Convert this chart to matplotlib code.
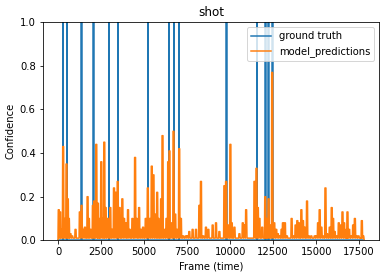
import numpy as np
import matplotlib
matplotlib.use("Agg")
import matplotlib.pyplot as plt

# frames where a shot happens (ground truth)
shot_frames = [290, 525, 1365, 2065, 2955, 3480, 5215, 6440, 6730, 7025,
               9800, 11575, 12055, 12230, 12450]

# model prediction peaks (frame, confidence)
pred_frames = [40, 120, 195, 295, 370, 490, 565, 625, 720, 820, 1015, 1265,
               1365, 1460, 1560, 1715, 1790, 1890, 2025, 2100, 2220, 2315,
               2375, 2510, 2610, 2685, 2765, 2860, 2960, 3035, 3150, 3250,
               3345, 3465, 3580, 3735, 3835, 3930, 4065, 4165, 4320, 4475,
               4570, 4710, 4825, 4940, 5095, 5215, 5330, 5445, 5545, 5640,
               5760, 5835, 5990, 6070, 6185, 6300, 6400, 6475, 6575, 6710,
               6810, 6925, 7040, 7140, 7275, 7430, 7525, 7625, 7820, 8015,
               8210, 8305, 8440, 8595, 8735, 8985, 9180, 9375, 9530, 9665,
               9765, 9880, 10015, 10095, 10250, 10345, 10540, 10735, 10830,
               10930, 11025, 11165, 11320, 11415, 11530, 11610, 11705, 11865,
               12040, 12095, 12235, 12310, 12445, 12565, 12680, 12775, 12875,
               12990, 13070, 13185, 13300, 13420, 13575, 13690, 13805, 13905,
               14000, 14140, 14235, 14330, 14470, 14585, 14720, 14820, 14915,
               15015, 15110, 15205, 15305, 15400, 15540, 15635, 15790, 15905,
               15985, 16080, 16180, 16315, 16430, 16530, 16625, 16765, 16820,
               16920, 17055, 17150, 17250, 17345, 17465, 17580, 17655, 17735]
pred_values = [0.14, 0.13, 0.05, 0.43, 0.10, 0.35, 0.19, 0.10, 0.03, 0.02,
               0.05, 0.13, 0.16, 0.05, 0.06, 0.20, 0.10, 0.05, 0.16, 0.18,
               0.44, 0.17, 0.10, 0.36, 0.10, 0.45, 0.15, 0.10, 0.10, 0.15,
               0.05, 0.24, 0.22, 0.27, 0.15, 0.19, 0.10, 0.08, 0.14, 0.05,
               0.10, 0.38, 0.10, 0.15, 0.05, 0.06, 0.10, 0.24, 0.10, 0.34,
               0.30, 0.12, 0.22, 0.10, 0.19, 0.48, 0.05, 0.10, 0.36, 0.41,
               0.08, 0.50, 0.12, 0.05, 0.42, 0.10, 0.02, 0.02, 0.02, 0.04,
               0.05, 0.05, 0.16, 0.27, 0.02, 0.06, 0.05, 0.07, 0.08, 0.04,
               0.01, 0.25, 0.27, 0.07, 0.44, 0.08, 0.06, 0.01, 0.03, 0.08,
               0.07, 0.14, 0.01, 0.01, 0.01, 0.27, 0.33, 0.15, 0.10, 0.06,
               0.20, 0.10, 0.19, 0.07, 0.77, 0.08, 0.05, 0.03, 0.02, 0.05,
               0.08, 0.08, 0.02, 0.01, 0.10, 0.02, 0.07, 0.09, 0.08, 0.14,
               0.09, 0.06, 0.18, 0.02, 0.02, 0.01, 0.02, 0.02, 0.08, 0.14,
               0.06, 0.02, 0.24, 0.03, 0.06, 0.15, 0.10, 0.04, 0.02, 0.08,
               0.07, 0.13, 0.08, 0.05, 0.13, 0.05, 0.02, 0.07, 0.10, 0.02,
               0.02, 0.01, 0.09, 0.02]
baseline = 0.01
first_frame, last_frame = 0, 17780

# ground truth as a 0/1 signal
gt_x, gt_y = [first_frame], [0]
for s in shot_frames:
    gt_x += [s - 15, s - 15, s + 15, s + 15]
    gt_y += [0, 1, 1, 0]
gt_x.append(last_frame)
gt_y.append(0)

# predictions: each peak sits on the low baseline
pr_x, pr_y = [first_frame], [0.005]
for f, v in zip(pred_frames, pred_values):
    pr_x += [f - 45, f - 28, f + 28, f + 45]
    pr_y += [baseline, v, v, baseline]
pr_x.append(last_frame)
pr_y.append(0.005)

fig = plt.figure(figsize=(386 / 72, 278 / 72), dpi=72)
ax = fig.add_axes([0.1106, 0.1356, 0.872, 0.7842])
ax.plot(gt_x, gt_y, label="ground truth")
ax.plot(pr_x, pr_y, label="model_predictions")
ax.set_ylim(0, 1)
ax.set_title("shot")
ax.set_xlabel("Frame (time)")
ax.set_ylabel("Confidence")
ax.legend(loc="upper right")

fig.savefig("out.png", dpi=72)
